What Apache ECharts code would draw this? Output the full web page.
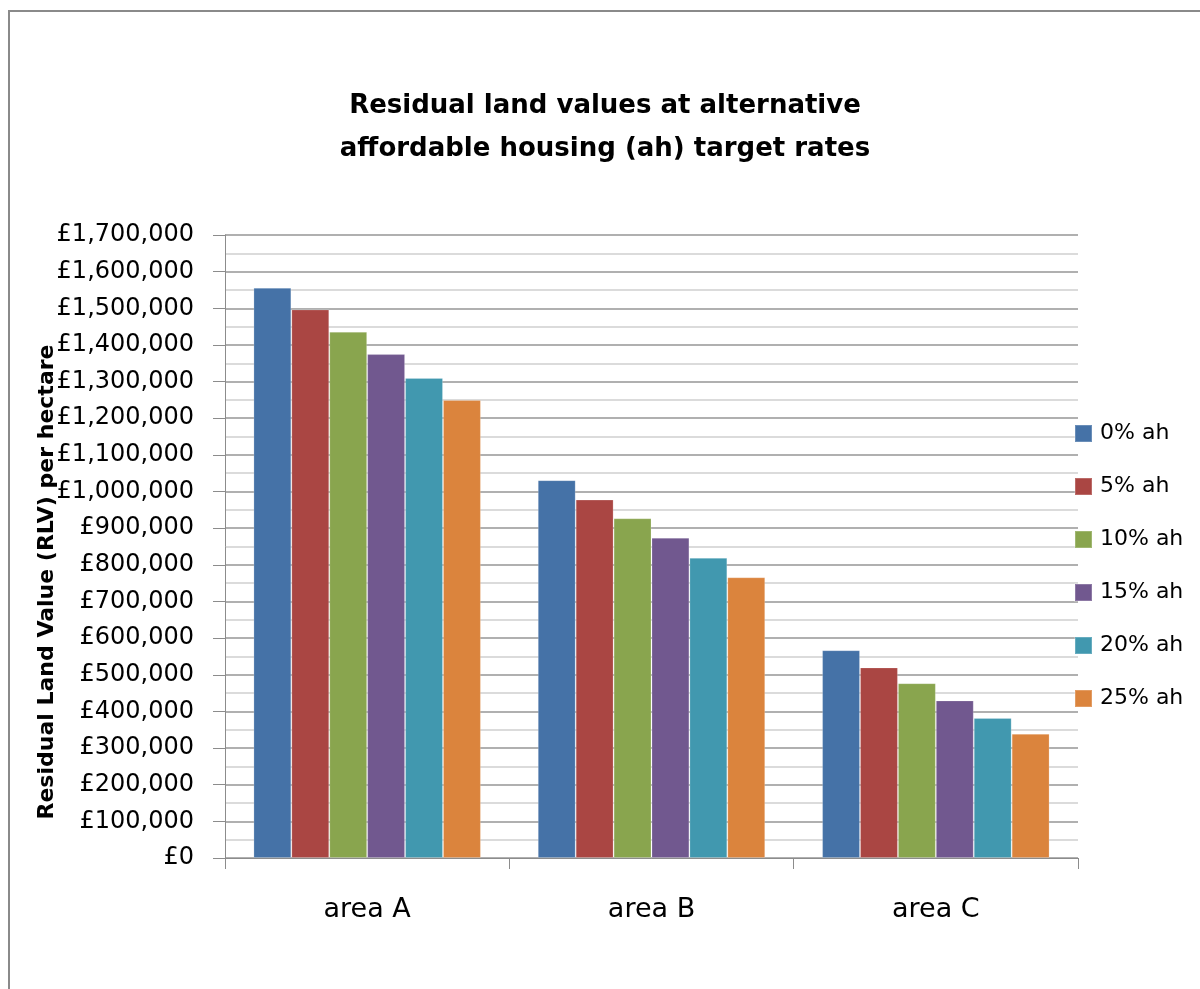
<!DOCTYPE html>
<html>
<head>
<meta charset="utf-8">
<title>Residual land values at alternative affordable housing (ah) target rates</title>
<script src="https://cdn.jsdelivr.net/npm/echarts@6/dist/echarts.min.js"></script>
<style>
  html, body { margin: 0; padding: 0; background: #ffffff; }
  #chart { width: 1200px; height: 989px; }
</style>
</head>
<body>
<div id="chart"></div>
<script>
// Residual land value per hectare by area, for each affordable housing share
const categories = ['area A', 'area B', 'area C'];
const seriesNames = ['0% ah', '5% ah', '10% ah', '15% ah', '20% ah', '25% ah'];
const ah0  = [1556000, 1031000, 567000];
const ah5  = [1497000,  978000, 520000];
const ah10 = [1436000,  927000, 477000];
const ah15 = [1375000,  874000, 430000];
const ah20 = [1310000,  819000, 382000];
const ah25 = [1250000,  766000, 339000];
const seriesValues = [ah0, ah5, ah10, ah15, ah20, ah25];
const seriesColors = ['#4572A7', '#AA4643', '#89A54E', '#71588F', '#4198AF', '#DB843D'];

const yMin = 0;
const yMax = 1700000;
const yStep = 100000;

function pounds(v) {
  return '£' + String(Math.round(v)).replace(/\B(?=(\d{3})+(?!\d))/g, ',');
}

const chart = echarts.init(document.getElementById('chart'), null, { renderer: 'canvas' });

const option = {
  backgroundColor: '#ffffff',
  animation: false,
  title: {
    text: 'Residual land values at alternative\naffordable housing (ah) target rates',
    left: 600,
    textAlign: 'center',
    top: 80,
    textStyle: {
      fontFamily: 'DejaVu Sans',
      fontWeight: 'bold',
      fontSize: 26,
      lineHeight: 43,
      color: '#000000'
    }
  },
  legend: {
    orient: 'vertical',
    left: 1069,
    top: 417,
    icon: 'rect',
    itemWidth: 17,
    itemHeight: 17,
    itemGap: 30,
    data: seriesNames,
    textStyle: {
      fontFamily: 'DejaVu Sans',
      fontSize: 22,
      lineHeight: 23,
      color: '#000000',
      padding: [0, 0, 0, 3]
    }
  },
  grid: {
    left: 225,
    right: 122,
    top: 235,
    bottom: 131,
    containLabel: false
  },
  xAxis: {
    type: 'category',
    data: categories,
    axisLine: { show: true, lineStyle: { color: '#8c8c8c', width: 1 } },
    axisTick: { show: true, alignWithLabel: false, length: 11, lineStyle: { color: '#8c8c8c' } },
    axisLabel: {
      margin: 38,
      fontFamily: 'DejaVu Sans',
      fontSize: 27,
      color: '#000000'
    },
    splitLine: { show: false }
  },
  yAxis: {
    type: 'value',
    min: yMin,
    max: yMax,
    interval: yStep,
    axisLine: { show: true, lineStyle: { color: '#8c8c8c', width: 1 } },
    axisTick: { show: true, length: 12, lineStyle: { color: '#8c8c8c' } },
    axisLabel: {
      margin: 31,
      fontFamily: 'DejaVu Sans',
      fontSize: 24,
      color: '#000000',
      formatter: pounds
    },
    splitLine: { show: true, lineStyle: { color: '#969696', width: 1.5 } },
    minorTick: { show: false, splitNumber: 2 },
    minorSplitLine: { show: true, lineStyle: { color: '#cfcfcf', width: 1.5 } }
  },
  graphic: [
    {
      type: 'rect',
      silent: true,
      shape: { x: 9, y: 11, width: 1300, height: 1100 },
      style: { fill: 'none', stroke: '#8a8a8a', lineWidth: 2 }
    },
    {
      type: 'text',
      silent: true,
      x: 47,
      y: 582,
      rotation: Math.PI / 2,
      style: {
        text: 'Residual Land Value (RLV) per hectare',
        fontFamily: 'DejaVu Sans',
        fontWeight: 'bold',
        fontSize: 22,
        fill: '#000000',
        align: 'center',
        verticalAlign: 'middle'
      }
    }
  ],
  series: seriesNames.map(function (name, i) {
    return {
      name: name,
      type: 'bar',
      data: seriesValues[i],
      barGap: '0%',
      barCategoryGap: '20%',
      itemStyle: {
        color: seriesColors[i],
        borderColor: 'rgba(255,255,255,0.2)',
        borderWidth: 1
      }
    };
  })
};

chart.setOption(option);
</script>
</body>
</html>
